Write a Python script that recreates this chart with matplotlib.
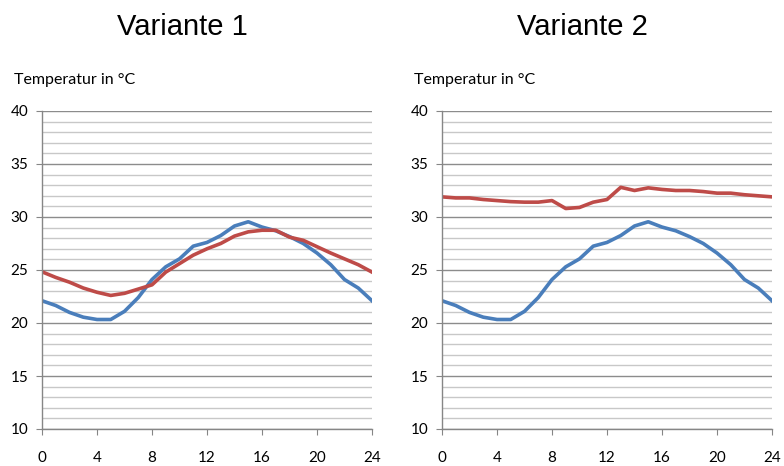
import matplotlib
matplotlib.use("Agg")
import matplotlib.pyplot as plt
from matplotlib.ticker import MultipleLocator

hours = list(range(25))

# Außentemperatur (blau), identisch in beiden Varianten
outdoor = [22.1, 21.65, 21.0, 20.55, 20.33, 20.33, 21.1, 22.4, 24.1, 25.3, 26.05,
           27.25, 27.6, 28.25, 29.15, 29.55, 29.05, 28.7, 28.15, 27.5, 26.6,
           25.5, 24.1, 23.3, 22.1]

# Raumtemperatur (rot)
room_v1 = [24.83, 24.3, 23.85, 23.3, 22.9, 22.6, 22.8, 23.2, 23.6, 24.8, 25.6,
           26.4, 27.0, 27.5, 28.2, 28.6, 28.75, 28.75, 28.1, 27.8, 27.2,
           26.6, 26.05, 25.5, 24.8]
room_v2 = [31.9, 31.8, 31.8, 31.65, 31.55, 31.45, 31.4, 31.4, 31.55, 30.8, 30.9,
           31.4, 31.65, 32.8, 32.5, 32.75, 32.6, 32.5, 32.5, 32.4, 32.25,
           32.25, 32.1, 32.0, 31.9]

titles = ["Variante 1", "Variante 2"]
ylabel = "Temperatur in °C"

blue = "#4a7ebb"
red = "#be4b48"

fig = plt.figure(figsize=(7.84, 4.66), dpi=100)
lefts = [42 / 784, 442 / 784]

for left, title, room in zip(lefts, titles, [room_v1, room_v2]):
    ax = fig.add_axes([left, 1 - 429 / 466, 330 / 784, 318 / 466])
    ax.plot(hours, outdoor, color=blue, lw=2.6, solid_joinstyle="round")
    ax.plot(hours, room, color=red, lw=2.6, solid_joinstyle="round")
    ax.set_xlim(0, 24)
    ax.set_ylim(10, 40)
    ax.xaxis.set_major_locator(MultipleLocator(4))
    ax.yaxis.set_major_locator(MultipleLocator(5))
    ax.yaxis.set_minor_locator(MultipleLocator(1))
    ax.grid(which="major", axis="y", color="#8c8c8c", lw=1.0)
    ax.grid(which="minor", axis="y", color="#c8c8c8", lw=1.0)
    ax.set_axisbelow(True)
    for s in ["top", "right"]:
        ax.spines[s].set_visible(False)
    for s in ["left", "bottom"]:
        ax.spines[s].set_color("#868686")
        ax.spines[s].set_linewidth(1.0)
    ax.tick_params(which="major", direction="out", length=4, color="#868686",
                   labelsize=11, labelcolor="black")
    ax.tick_params(axis="x", which="major", pad=12)
    ax.tick_params(axis="y", which="major", pad=6)
    ax.tick_params(which="minor", length=0)
    for lab in ax.get_xticklabels() + ax.get_yticklabels():
        lab.set_fontfamily("Lato")
    fig.text(left + 140 / 784, 1 - 27 / 466, title, ha="center", va="center",
             fontsize=21, family="Liberation Sans")
    fig.text(left - 28 / 784, 1 - 80 / 466, ylabel, ha="left", va="center",
             fontsize=11.5, family="Lato")

fig.savefig("out.png", dpi=100)
